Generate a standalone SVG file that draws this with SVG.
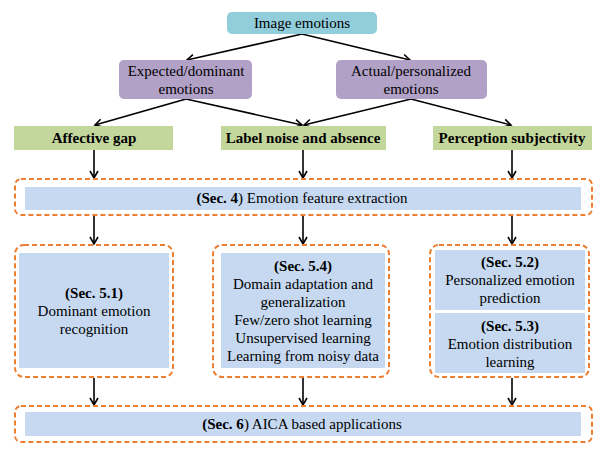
<svg xmlns="http://www.w3.org/2000/svg" width="604" height="459" viewBox="0 0 604 459" font-family="'Liberation Serif', 'Times New Roman', 'DejaVu Serif', serif">
<style>
text{font-family:'Liberation Serif','Times New Roman','DejaVu Serif',serif;font-size:15px;fill:#000;text-anchor:middle}
.b{font-weight:bold}
.teal{fill:#92CDDC}
.purple{fill:#B2A1C7}
.green{fill:#C3D69B}
.blue{fill:#C6D9F1}
.dash{fill:none;stroke:#ED7D31;stroke-width:2;stroke-dasharray:5,3}
.conn{stroke:#000;stroke-width:1.6;fill:none;marker-end:url(#ah)}
</style>
<defs>
<marker id="ah" markerWidth="10" markerHeight="10" refX="8" refY="5" orient="auto" markerUnits="userSpaceOnUse">
<path d="M1,1 L8,5 L1,9" fill="none" stroke="#000" stroke-width="1.6"/>
</marker>
</defs>
<rect width="604" height="459" fill="#fff"/>
<g id="connectors">
<line class="conn" x1="302" y1="34" x2="187" y2="60"/>
<line class="conn" x1="302" y1="34" x2="410" y2="60"/>
<line class="conn" x1="186" y1="99" x2="95" y2="125"/>
<line class="conn" x1="186" y1="99" x2="302" y2="125"/>
<line class="conn" x1="411" y1="99" x2="304" y2="125"/>
<line class="conn" x1="411" y1="99" x2="511" y2="125"/>
<line class="conn" x1="94" y1="150" x2="94" y2="178"/>
<line class="conn" x1="303" y1="150" x2="303" y2="178"/>
<line class="conn" x1="512" y1="150" x2="512" y2="178"/>
<line class="conn" x1="94" y1="216" x2="94" y2="244"/>
<line class="conn" x1="303" y1="216" x2="303" y2="244"/>
<line class="conn" x1="512" y1="216" x2="512" y2="244"/>
<line class="conn" x1="94" y1="378" x2="94" y2="405"/>
<line class="conn" x1="303" y1="378" x2="303" y2="405"/>
<line class="conn" x1="512" y1="378" x2="512" y2="405"/>
</g>
<g id="image-emotions">
<rect class="teal" x="227" y="12" width="150" height="22" rx="5"/>
<text x="302" y="28">Image emotions</text>
</g>
<g id="expected">
<rect class="purple" x="119" y="60" width="133" height="39" rx="5"/>
<text x="186" y="76">Expected/dominant</text>
<text x="186" y="94">emotions</text>
</g>
<g id="actual">
<rect class="purple" x="336" y="60" width="151" height="39" rx="5"/>
<text x="411" y="76">Actual/personalized</text>
<text x="411" y="94">emotions</text>
</g>
<g id="affective-gap">
<rect class="green" x="14" y="126" width="159" height="24"/>
<text class="b" x="94" y="143">Affective gap</text>
</g>
<g id="label-noise">
<rect class="green" x="221" y="126" width="165" height="24"/>
<text class="b" x="303" y="143">Label noise and absence</text>
</g>
<g id="perception">
<rect class="green" x="433" y="126" width="159" height="24"/>
<text class="b" x="512" y="143">Perception subjectivity</text>
</g>
<g id="sec4">
<rect class="dash" x="15" y="179" width="577" height="36" rx="6"/>
<rect class="blue" x="25" y="187" width="556" height="23"/>
<text x="302" y="203"><tspan class="b">(Sec. 4</tspan>) Emotion feature extraction</text>
</g>
<g id="sec51">
<rect class="dash" x="15" y="245" width="158" height="132" rx="9"/>
<rect class="blue" x="19" y="253" width="150" height="115"/>
<text class="b" x="94" y="298">(Sec. 5.1)</text>
<text x="94" y="316">Dominant emotion</text>
<text x="94" y="334">recognition</text>
</g>
<g id="sec54">
<rect class="dash" x="213" y="245" width="176" height="132" rx="9"/>
<rect class="blue" x="221" y="253" width="164" height="115"/>
<text class="b" x="303" y="271">(Sec. 5.4)</text>
<text x="303" y="289">Domain adaptation and</text>
<text x="303" y="307">generalization</text>
<text x="303" y="325">Few/zero shot learning</text>
<text x="303" y="343">Unsupervised learning</text>
<text x="303" y="361">Learning from noisy data</text>
</g>
<g id="sec52-53">
<rect class="dash" x="430" y="245" width="159" height="132" rx="9"/>
<rect class="blue" x="435" y="250" width="150" height="60"/>
<text class="b" x="510" y="267">(Sec. 5.2)</text>
<text x="510" y="285">Personalized emotion</text>
<text x="510" y="303">prediction</text>
<rect class="blue" x="435" y="313" width="150" height="60"/>
<text class="b" x="510" y="331">(Sec. 5.3)</text>
<text x="510" y="349">Emotion distribution</text>
<text x="510" y="367">learning</text>
</g>
<g id="sec6">
<rect class="dash" x="15" y="406" width="577" height="36" rx="6"/>
<rect class="blue" x="25" y="412" width="556" height="24"/>
<text x="302" y="429"><tspan class="b">(Sec. 6</tspan>) AICA based applications</text>
</g>
</svg>
